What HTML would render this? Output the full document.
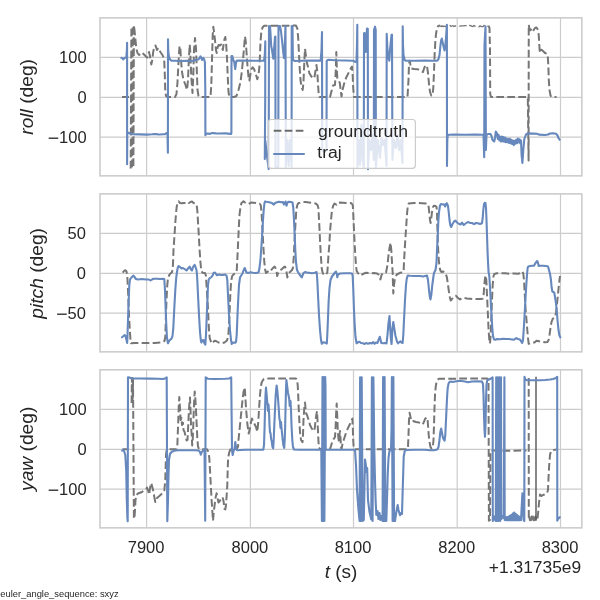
<!DOCTYPE html><html><head><meta charset="utf-8"><style>html,body{margin:0;padding:0;background:#fff}svg{display:block;will-change:transform}text{font-family:"Liberation Sans",sans-serif;fill:#262626}</style></head><body>
<svg width="600" height="600" viewBox="0 0 600 600">
<rect width="600" height="600" fill="#fff"/>
<clipPath id="c0"><rect x="100" y="17.85" width="481.85" height="158.0"/></clipPath>
<path d="M146.6 17.85V175.85M250.4 17.85V175.85M353.5 17.85V175.85M457.2 17.85V175.85M560.5 17.85V175.85M100 57.4H581.85M100 97.3H581.85M100 137.2H581.85" stroke="#cccccc" stroke-width="1.2" fill="none"/>
<g clip-path="url(#c0)" fill="none" stroke-linejoin="round">
<path d="M122 97 H129 M130.7 168.5 L131.4 25.5 M132.1 167.2 L132.7 25.5 M133.4 166 L133.9 25.3 L134.5 30 L135.3 38 L136.2 48 L137.5 53 L139 55 L140.5 54 L142 52.5 L143.5 54 L145 55.5 L146.5 57 L147.5 57.5 L148.3 54 L149 52 L150 56 L150.8 62 L151.3 64.5 L152.3 60 L153.2 52 L154.2 47 L155.5 45.5 L157 50 L158.3 48 L159.5 50.5 L161 53 L162.5 55 L163.5 57.5 L164.3 62 L164.8 75 L165.2 90 L166 96 L167.5 97 L175 97 L176.5 94 L177.5 82 L178.5 62 L179.5 46 L180.3 48 L181 60 L182 72 L183.5 80 L185.5 85 L187 90 L188 80 L188.8 60 L189.7 44.5 L190.3 52 L190.8 65 L191.5 80 L192.5 93 L193.3 75 L194 50 L195 38 L196 48 L196.8 70 L197.5 90 L198.5 96 L200 97 L210.5 97 L211.3 85 L212 60 L212.7 35 L213.3 26.7 L214.3 34 L215.2 42 L216 50 L216.7 53 L217.5 48 L218.5 45 L220 45.5 L221 44.5 L222 48 L222.8 50 L223.5 45 L224.5 39 L225.3 37 L226.2 45 L227 58 L227.8 78 L228.5 92 L229.5 97 L234 97 L236.5 96 L238.5 90 L240.5 82 L242 70 L243.5 54 L244.5 42 L245 36.5 L245.8 42 L246.5 52 L247.5 66 L248.5 77 L249.3 80.5 L250.5 74 L251.5 69 L252.7 67.3 L254 69 L255.5 73 L257.3 79.3 L258.5 75 L259.3 68 L260 55 L260.5 42 L261.3 32 L262.5 27.5 L264 25.8 L296 25.6 L297.3 28.5 L298.2 38 L298.8 50 L299.5 65 L300.5 80 L301.5 87 L302.7 90 L303.5 82 L304.3 62 L305 48.7 L305.8 55 L306.5 61 L308 67 L309.3 73 L311 76 L313 78.3 L314.3 78 L315.3 72 L316.5 65 L317.3 72 L318 84 L318.7 94 L319.5 97 L330 97 L331.3 92 L333 85.5 L335 85 L335.8 70 L336.3 52 L336.8 68 L337.3 78 L338.5 80 L339.8 83 L340.8 91 L341.5 96.5 L342.5 90 L344 84 L346 78 L349 72 L351 68 L352 66.5 L352.6 74 L353.2 88 L354 97 L407.5 97 L408.5 80 L409 64 L409.7 60.7 L410.5 65 L411.3 68.5 L414 69 L418 69.3 L421 71 L423 72 L424.2 68 L425.5 65.3 L427 66 L428 73 L429 84 L430 92 L431.3 95.5 L432.5 95.5 L433.3 88 L434 72 L434.6 55 L435.3 42 L436 34 L437 28.5 L438.2 26 L440 25.6 M488.5 25.6 L489.5 28 L490 50 L490.2 94 L491 97 L527.8 97 L528.6 160.5 L528.75 24.7 L529.5 29 L530.5 30.3 L531.5 28.5 L533 31 L534 29.5 L535 28 L536.5 27.5 L537.5 29 L538.3 31 L538.8 36 L539.3 45 L539.8 52.5 L540.5 50 L541.5 49.7 L543 51 L545 53 L547 53.7 L547.8 56.5 L548.3 65 L548.8 80 L549.5 90 L550.5 95.5 L551.5 97 L556.5 97" stroke="#767676" stroke-width="2" stroke-dasharray="7.7 3.3"/>
<path d="M440.0 25.7 L441.0 26.6 L442.0 25.7 L443.0 26.7 L444.0 26.1 L445.0 26.3 L446.0 26.5 L447.0 26.1 L448.0 25.8 L449.0 25.7 L450.0 25.5 L451.0 26.4 L452.0 26.0 L453.0 25.6 L454.0 26.6 L455.0 25.8 L456.0 26.0 L457.0 25.8 L458.0 26.3 L459.0 26.2 L460.0 26.2 L461.0 25.8 L462.0 25.8 L463.0 25.8 L464.0 25.9 L465.0 25.6 L466.0 25.6 L467.0 26.7 L468.0 26.7 L469.0 25.7 L470.0 25.4 L471.0 25.7 L472.0 26.4 L473.0 26.5 L474.0 25.4 L475.0 26.2 L476.0 25.4 L477.0 26.1 L478.0 26.3 L479.0 26.8 L480.0 25.8 L481.0 26.5 L482.0 26.6 L483.0 26.7 L484.0 25.4 L485.0 26.1 L486.0 26.8 L487.0 26.0 L488.0 26.5" stroke="#767676" stroke-width="1.3" stroke-dasharray="7.7 3.3" fill="none"/>
<path d="M121.3 57.8 L122.5 58.3 L123.3 59.5 L124.5 57.8 L126.3 57.5 L126.9 50 L127.1 42.7 L127.1 164.3 L127.3 133 L128.5 132.8 L130 133.5 L133 134.3 L140 134.4 L147 134.6 L152 134.3 L155 134 L158 134.4 L160 134.5 L163 134.2 L165 134.3 L166.5 133 L167.5 134 L167.9 152.7 L168 39.3 L168.3 52 L169 57 L170 59.5 L171.5 60.6 L175 60.8 L180 61 L186 60.8 L193.3 61 L196 59.8 L198.5 59.5 L200.5 56.3 L201.5 58.5 L202 60 L203.3 57.8 L204.3 60 L204.9 62 L205.3 90 L205.4 135.3 L206 133.5 L208 133.6 L210 133.9 L212 133 L216 133.4 L220 133.5 L225 133.3 L228 133.6 L231 134 L231.4 133 L231.5 56 L232.3 56 L232.8 58 L233.5 60.5 L234.3 62 L235.2 69 L236 63 L236.6 60.8 L238 60.5 L245 60.6 L255 60.7 L264 60.8 L264.8 55 L265.3 41.3 L265.2 100 L264.8 159 L265.4 141 L266.8 155 L268.7 169 L269 26 L270 26 L270.6 35 L271.2 46 L272 50 L272.6 54 L273.3 58.6 L274 50 L275 37 L275.4 36.5 L275.5 167 L278.3 167 L278.5 26 L280 26 L281 31.5 L282 40 L283 50 L284 58 L284.8 45 L285.5 26 L285.8 167 L287.5 140 L288.6 166 L290 140 L291.6 167 L291.7 26 L292.5 26 L292.7 45 L292.9 59.3 L293.8 60.5 L295 61 L300 60.7 L310 60.6 L320.7 60.6 L321.5 50 L322 32 L322.2 150 L324 152 L326.5 150 L326.7 61.3 L327.3 60.3 L328.5 59.8 L335 60.3 L345 60.5 L353 60.8 L355.5 62 L356.5 61 L357 45 L357.3 24.7 L357.5 167 L358.8 140 L360 165 L361.5 125 L362.6 160 L363.8 167 L364 33.3 L364.6 33 L365.7 52 L367 28.5 L367.8 29 L368 169.3 L369.5 140 L371 150 L372.5 135 L373.8 160 L374 30 L375 26.7 L375.7 30 L375.9 167 L378 140 L380 158 L381.5 138 L383 145 L384.5 140 L386.5 166 L386.7 33.7 L387.5 50 L388.5 58 L389.3 60.7 L390 50 L391.5 35 L392 34.7 L392.4 160 L394 140 L396 148 L397.5 135 L399 150 L400.5 140 L402.5 163 L402.7 26.3 L403 45 L403.5 55 L404.7 60 L406 60.8 L415 60.7 L425 60.6 L432 60.8 L437.3 60.6 L438.5 59 L439.5 55 L440.2 48 L441 41 L441.8 38.6 L443 44 L444.5 50.5 L445.3 46 L446.2 35 L446.9 24.7 L447 166 L447.3 140 L447.7 135.5 L448.7 134.7 L455 134.6 L465 134.7 L475 134.5 L483.5 134.7 L484.2 157.3 L484.5 45 L485.5 26.3 L485.9 150 L486.5 135 L488 134 L490.5 134 L491.5 136 L492.5 140 L494.2 141.5 L495 138 L495.8 131.5 L497.0 133.3 L497.8 138.9 L498.6 134.9 L499.4 140.4 L500.2 136.7 L501.0 141.5 L501.8 136.6 L502.6 141.3 L503.4 137.1 L504.2 141.8 L505.0 137.6 L505.8 142.1 L506.6 138.5 L507.4 142.3 L508.2 139.0 L509.0 142.9 L509.8 138.9 L510.6 143.3 L511.4 139.8 L512.2 144.0 L513.0 140.6 L513.8 145.1 L514.6 140.8 L515.4 143.8 L516.2 139.8 L517.0 143.2 L517.8 138.6 L518.6 142.2 L519.4 139.2 L520.2 143.2 L521.0 140.4 L521.6 155 L522.4 163 L523.3 150 L524.3 139 L526 134.5 L528 133.4 L533 133.6 L537 133.7 L539 134.6 L545 135 L548 134.5 L550 133.5 L553 133.3 L556 133.7 L557.5 135.5 L558.5 138 L559.6 139.6" stroke="#6688bd" stroke-width="2.1" stroke-linecap="round"/>
</g>
<rect x="268.3" y="119.5" width="147.1" height="48.8" rx="3" fill="#fff" fill-opacity="0.8" stroke="#cccccc" stroke-width="1.2"/>
<path d="M273.7 130.8H304.3" stroke="#6c6c6c" stroke-width="2" stroke-dasharray="7.7 3.3" fill="none"/>
<path d="M274 154H304" stroke="#6688bd" stroke-width="2" stroke-linecap="round" fill="none"/>
<text transform="translate(318 136.6) scale(1.13 1)" font-size="15.6">groundtruth</text>
<text transform="translate(317.3 158.1) scale(1.13 1)" font-size="15.6">traj</text>
<rect x="100" y="17.85" width="481.85" height="158.0" fill="none" stroke="#cccccc" stroke-width="1.6"/>
<text transform="translate(86.6 63.1) scale(1.06 1)" font-size="15.6" text-anchor="end">100</text>
<text transform="translate(86.6 103.0) scale(1.06 1)" font-size="15.6" text-anchor="end">0</text>
<text transform="translate(86.6 142.89999999999998) scale(1.06 1)" font-size="15.6" text-anchor="end">100</text><rect x="48.65" y="137.55" width="9.6" height="1.3" fill="#262626"/>
<text transform="translate(32.8 96.85) rotate(-90) scale(1.055 1)" font-size="18.2" text-anchor="middle"><tspan font-style="italic">roll</tspan> (deg)</text>
<clipPath id="c1"><rect x="100" y="193.9" width="481.85" height="157.95000000000002"/></clipPath>
<path d="M146.6 193.9V351.85M250.4 193.9V351.85M353.5 193.9V351.85M457.2 193.9V351.85M560.5 193.9V351.85M100 233.4H581.85M100 273.3H581.85M100 313.2H581.85" stroke="#cccccc" stroke-width="1.2" fill="none"/>
<g clip-path="url(#c1)" fill="none" stroke-linejoin="round">
<path d="M122.7 272.7 L124 271 L125.4 270.2 L126.5 271.5 L127.3 276 L128 290 L129 315 L129.8 330 L130.5 340 L131 343.2 L135 343 L145 343 L155 343 L162.5 342.3 L164.5 341 L165.3 337 L165.8 320 L166.5 300 L167.3 285 L168 278 L169.2 275.2 L170.5 273.5 L172 272.3 L172.9 266 L173.5 250 L174.5 235 L175.5 220 L176.6 207.6 L177.4 203.2 L178.6 201.4 L180 203 L182 203.3 L184 203 L186 203 L187.8 202 L189 203 L190.5 202 L192 201.5 L193.5 203 L195 203.5 L196.6 204.6 L197.4 211.5 L198 222 L198.8 235 L199.6 250 L200.5 263 L201.3 271 L202.5 272.7 L205 273 L206 276 L206.5 285 L207.5 300 L208.3 315 L209 330 L209.7 338 L211.5 343.5 L213 342.5 L214.6 340.7 L216 341 L218.5 342.5 L221.8 343.3 L224.5 342.5 L227 340.5 L228.3 336 L229 325 L229.7 310 L230.3 295 L231 283 L231.7 278 L232.4 275.6 L234 274 L236 273 L236.7 271 L237.3 260 L238 245 L238.7 230 L239.5 215 L240.5 206.8 L241.5 203 L243.5 201.3 L245 202.5 L247 203.7 L248.5 204 L251 202.5 L254 202.8 L257.3 203.2 L259.5 203.5 L260.7 205 L261.5 212 L262.3 225 L263 240 L263.7 252 L264.3 262 L265.2 270 L266 273 L267.5 271.5 L269 272.3 L270.5 271 L272.5 268.5 L274.6 266.6 L275.5 268 L276.5 271 L277.2 276 L278.5 272 L280 270.5 L282 269 L284 267 L284.9 266.5 L286 269 L287 275 L287.3 277.4 L288.5 273 L290 272 L292 270 L292.9 268 L293.7 258 L294.3 245 L295 232 L295.7 220 L296.3 210 L297.3 205 L298.5 203 L300 202.8 L303 202 L305.5 202.1 L309 202.5 L312 203 L315.5 203.4 L317.5 205 L318.4 208 L319.3 225 L320 240 L320.8 255 L321.7 268 L322.6 272.6 L324 275 L326 274.5 L327.3 272.5 L327.8 266 L328.4 256 L329.3 245 L330 232 L331 220 L332 210 L333.2 205.8 L334.5 203.6 L336.5 204.6 L337.5 203 L340 202.5 L343 202.7 L346 203 L349 203 L351.5 203.3 L352.8 205.2 L353.3 215 L354 230 L354.7 245 L355.5 258 L356 266 L356.7 271.2 L358 273 L359.5 275.3 L361 275 L363 274 L366 272.7 L370 273.3 L374 273 L377 273.5 L379 275 L380.4 279.4 L381.5 275 L383 273 L386 272.6 L387.5 265 L388.5 255 L389.5 248 L390.6 242.8 L391.3 250 L392 262 L392.7 273 L393 285 L393.3 293.5 L394 285 L395 278 L396.8 274.5 L400 272.8 L403 272.5 L403.7 270 L404 262 L404.7 250 L405.5 237 L406.3 225 L407 214 L407.8 206 L408.7 203.6 L411 203.2 L414 203 L418 203 L422 203.2 L426 203.5 L428 204 L428.7 207 L429.3 213 L430 220 L430.6 223 L431.3 218 L432 212 L433 207 L434 205.7 L435.5 206 L436.5 207 L437 212 L437.3 225 L437.7 240 L438.2 250 L438.8 260 L439.5 267 L440.5 270.8 L441.5 272 L443 271.5 L445 272.5 L446.7 276.5 L447 278 L448 285 L449 292 L450 298 L450.7 300.5 L452 299 L454 296.5 L456 295.8 L458 298 L460 299.4 L462 298 L464 298 L467 298.5 L470 298.7 L473 299 L476 299 L480 299 L482.8 298.7 L483.7 294 L484.3 285 L485 278 L485.7 275.5 L486.3 280 L487 295 L487.8 312 L488.5 328 L489.3 340 L490 343.5 L490.7 335 L491.3 318 L492 300 L492.7 285 L493.3 277 L494.3 274 L497 273.3 L505 273.3 L510 273.8 L514 273.5 L518 273.8 L520 273.3 L522.4 271.5 L523.3 273.5 L524 280 L524.8 295 L525.5 308 L526.5 320 L527.3 330 L528 338 L528.7 343.8 L530 343 L532 342.7 L534.5 342.5 L536.5 340.7 L538 341 L540 341.5 L543 342 L545 342.3 L547.5 342 L548.6 340 L549.5 335 L550.5 328 L551.5 322 L552.8 318.6 L554.6 317.8 L556 313 L557 304 L558 294 L559 284 L560 276" stroke="#767676" stroke-width="2" stroke-dasharray="7.7 3.3"/>

<path d="M122 337.3 L123.5 336 L124.6 335 L125.5 336 L126.5 340 L127.2 343 L127.5 335 L128 320 L128.7 300 L129.3 285 L130 279.5 L131 278 L132 277 L133.5 275.6 L134.5 277 L136 279 L138 279.5 L142 279 L146 279.5 L149 279.5 L150.5 280.5 L152 279.5 L153.5 278.7 L157 278.8 L160 279 L163 278.7 L164.3 279 L165 290 L165.7 310 L166.3 325 L167 338 L168 343.3 L169 341 L170.5 339.5 L171.5 338.7 L172.5 336 L173.3 328 L174.3 308 L175.3 290 L176.2 278 L177 272 L177.7 268 L178.6 266 L180 267 L181.5 268.5 L183 268 L184.5 269 L186.5 270.5 L188 268.5 L189.7 266.6 L191 269.5 L192 270.5 L193 267 L194.6 264.8 L195.5 267 L196.5 270 L197 275 L197.4 282 L198 295 L199 315 L200 332 L200.8 340 L201.4 342.6 L202.5 340.5 L203.5 340 L204.5 343.5 L205.3 344.6 L206 335 L206.8 315 L207.5 298 L208 285 L208.8 279.3 L210 278 L211.5 277 L212.7 275.3 L213.5 273 L215 272.5 L216 274 L217 275.3 L219 274.5 L221 275 L223 275 L225 274.5 L226.5 275.5 L227.3 280 L228 295 L229 315 L230 330 L231 340 L231.8 344 L232.5 343 L233.5 342.5 L235.2 342.8 L236 342 L236.7 335 L237.5 315 L238.3 298 L239 285 L240 277.5 L241.5 275 L242.5 273.5 L243.5 270.5 L244.7 268 L245.5 270 L246.5 272.6 L248 273 L250.5 272.3 L253 272.8 L256 273 L258.5 272.5 L259.5 268 L260.6 258 L261.5 245 L262.3 232 L263 220 L263.7 210 L264.5 203 L265.2 201.4 L266 201.7 L268 202 L270 202.5 L272 203 L273.8 204.6 L275 203 L277 202.3 L279 201.8 L281 202.3 L283 202 L284 204.5 L285 203 L285.5 201.5 L286.5 205.8 L287.5 202.5 L289 201.7 L291 202 L292.5 202.5 L293.3 208 L294 220 L294.7 235 L295.3 250 L296 262 L297 270 L298 272 L299.5 274.5 L301.8 277.4 L303.5 273 L305 272 L307 272.6 L309 272.8 L312 273.3 L315 272.8 L316.6 272 L317 276 L317.4 282 L318 295 L319 315 L320 330 L321 340 L321.8 343.7 L323 342.3 L324.5 342.5 L326 343 L326.8 343.5 L327.3 335 L328 318 L328.7 300 L329.5 288 L330.5 280 L332 276.5 L333.5 274.5 L335 272.5 L336 271.5 L336.8 274 L337.3 277.3 L338 274.5 L340 273.5 L345 273.3 L350 273.3 L352 273.5 L352.7 276 L353.3 290 L354 310 L354.7 325 L355.5 337 L356.6 343.3 L358 342.3 L359.5 341.7 L361 343 L363 343.3 L364.6 344 L366 343 L368 343.7 L370 343 L372 343.5 L373 342 L374.6 343.8 L376 342.5 L377.5 343 L378.5 340 L379.8 336.8 L380.6 340 L381.3 343 L383 343.2 L385 343 L386.5 343.5 L387.5 335 L388.3 325 L389.5 316 L390.3 330 L391 340 L391.6 344 L392.3 330 L393.3 322 L394.5 330 L395.5 336 L397 341.5 L398 343.3 L399.5 342 L400.5 341.3 L401.5 342.5 L402.6 343 L403.3 335 L404 320 L405 300 L406 285 L406.7 279 L407.7 275.5 L410 275.8 L415 276 L420 276 L423 276.5 L427 275.5 L428 280 L429 290 L430 298 L430.5 299.4 L431.3 295 L432.3 285 L433.5 276 L434 273 L435.5 270 L436.5 263 L437 250 L437.8 235 L438.3 222 L439 212 L440 205.5 L440.9 204 L442.5 204.5 L444 204.3 L445.2 206.5 L446 204 L446.8 203.2 L448 206 L448.7 212 L449.5 220 L450.3 225 L451.2 227 L452.3 224.5 L454 221.5 L455.5 220.6 L457 222.5 L459.2 224 L460.5 224.5 L462 222.6 L463.8 225 L465 224 L467 222.5 L468.6 222 L470 223 L472 223 L474 224.2 L476 223 L478 223.3 L480 224 L482 223.2 L482.7 218 L483.3 210 L484 204 L484.8 202.8 L485.5 203 L486 208 L486.5 220 L487 235 L487.5 250 L488 262 L488.6 272.6 L489.3 276 L490 287 L490.7 300 L491.5 315 L492.3 328 L493 336 L494 339.4 L495.5 339.8 L497 339 L500 339.3 L503 338.8 L506 339 L509 339 L512 339.5 L514 339.6 L516.3 338.1 L518 339 L520 339.6 L522.2 342.9 L523 340 L523.7 330 L524.6 315 L525.5 298 L526.3 285 L527 275 L527.6 268 L528.3 266.4 L530 266 L532 265.7 L534 265.7 L535.5 263 L537.2 261 L538 263 L538.7 266 L540 265.7 L543 265.8 L546 266 L548 266.5 L549 270 L550 274 L551 280 L551.6 287.5 L552.4 291.5 L554.3 292.6 L555 297 L556 303.3 L556.7 310 L557.5 320 L558.5 330 L559.3 335 L560.3 337.4" stroke="#6688bd" stroke-width="2.1" stroke-linecap="round"/>
</g>
<rect x="100" y="193.9" width="481.85" height="157.95000000000002" fill="none" stroke="#cccccc" stroke-width="1.6"/>
<text transform="translate(86.0 239.1) scale(1.06 1)" font-size="15.6" text-anchor="end">50</text>
<text transform="translate(86.0 279.0) scale(1.06 1)" font-size="15.6" text-anchor="end">0</text>
<text transform="translate(86.0 318.9) scale(1.06 1)" font-size="15.6" text-anchor="end">50</text><rect x="57.10" y="313.55" width="9.6" height="1.3" fill="#262626"/>
<text transform="translate(42.8 273.375) rotate(-90) scale(1.055 1)" font-size="18.2" text-anchor="middle"><tspan font-style="italic">pitch</tspan> (deg)</text>
<clipPath id="c2"><rect x="100" y="369.8" width="481.85" height="158.05"/></clipPath>
<path d="M146.6 369.8V527.85M250.4 369.8V527.85M353.5 369.8V527.85M457.2 369.8V527.85M560.5 369.8V527.85M100 409.40000000000003H581.85M100 449.3H581.85M100 489.2H581.85" stroke="#cccccc" stroke-width="1.2" fill="none"/>
<g clip-path="url(#c2)" fill="none" stroke-linejoin="round">
<path d="M122.5 449.2 H128.5 M131.6 403 L131.9 378 L132.7 399 L133 378.5 L133.9 518.7 L134.6 516 L135 510 L135.5 500 L136.3 495 L138 493.5 L140 492.7 L142 492 L144 490.5 L146 489 L147 487.5 L148 490 L149.2 494.6 L150 488 L151.2 483 L152.3 487 L153.5 492 L154.5 498 L155.3 502 L157 498 L158.8 496.5 L161 494.5 L163 492.5 L164.3 490.6 L165.3 480 L165.7 465 L166 455 L166.6 450.6 L168 449.3 L176.5 449.3 L177.3 447 L177.7 435 L178.3 420 L178.8 405 L179.3 397 L179.8 405 L180.2 411 L180.6 420 L181.5 418 L182 425 L183 423 L183.5 430 L184.6 432 L185.5 436 L186.6 440.5 L187.5 440 L188 430 L188.7 415 L189.3 405 L190 397.4 L190.3 405 L190.7 415 L191 425 L191.7 435 L192.2 445.5 L192.7 440 L193.3 425 L193.8 410 L194.3 398 L194.7 391.4 L195.3 398 L196 410 L196.7 425 L197.3 438 L198 446.5 L199 449 L203.5 449.2 L207 449.3 L208.5 452 L209.3 458 L210 470 L210.8 485 L211.6 500 L212.4 512 L213 520.7 L213.5 515 L214.5 506 L215.5 498 L216.6 493.2 L217.3 497 L218.5 502.5 L219.5 501.5 L221 499 L222.6 497.2 L223.5 501 L224.6 509 L225.3 509.5 L226 505 L226.7 495 L227.3 485 L227.7 470 L228 461 L228.7 455 L229.4 451.8 L230.5 449.2 L236.7 448.8 L238 446.7 L238.5 440 L239.5 430 L240.5 420 L241.5 410 L242.5 400 L243.5 392 L244.7 387.4 L245.3 396 L246 408 L247.3 423.3 L248.7 433.6 L250 428 L251 422 L252 418.6 L253 421 L254.5 424 L256 427 L257.3 431.8 L258 425 L258.7 415 L259.3 405 L260 395 L260.7 388 L261.5 383 L262.6 380.6 L264 379 L266 378.5 L296 378.5 L297 380 L297.7 385 L298.2 395 L298.7 408 L299.3 420 L300 432 L301 440 L302.5 442.3 L303 435 L303.5 420 L304.3 408 L305 402.6 L305.5 408 L306 413 L307 415 L308 418 L309 421 L310 425 L311.5 428 L313.3 430.8 L314 431 L314.8 428 L315.5 421 L316.3 415 L317 411.3 L317.5 420 L318 432 L318.5 442 L319 447.5 L320 449 L330 449.2 L331 446 L332.5 441 L334 438.5 L335 437 L335.7 425 L336.2 412 L336.7 403.6 L337.2 415 L337.7 428 L338.3 437 L338.8 440.6 L339.5 435 L340 431 L340.5 438 L341 447 L341.5 449 L342.5 444 L344 439 L346 433 L348 428 L350 424 L351.5 420.5 L352.4 418.6 L352.8 428 L353.2 440 L353.7 448 L354.5 449.2 L407.5 449.2 L408 447 L408.5 435 L409 420 L409.6 412.7 L410.5 417 L411.3 421 L413 421 L416 422 L419 422.5 L422.3 424.6 L423.5 423 L425 419 L426.6 417.4 L427.5 419 L428 425 L428.7 435 L429.5 442 L430.5 447 L431.4 448.5 L432.7 448 L433.5 440 L434 425 L434.5 408 L435 395 L435.7 387 L436.5 382 L437.4 379.8 L439 378.7 L487.3 378.5 L488.5 380 L488.9 520.7 L490 520 L490.5 451 L492 450.6 L500 450.6 L510 450.8 L520 450.6 L526.5 450.5 M528.7 378 L528.8 519.3 L529.3 516.6 L529.9 520.2 L530.5 516.6 L531.1 520.2 L531.7 516.6 L532.3 520.2 L532.9 516.6 L533.5 520.2 L534.1 516.6 L534.7 520.2 L535.3 516.6 L536.5 520.5 L537.5 519 L538.2 512 L539 503 L540 494.5 L541.5 496 L543 495 L544.5 494.5 L547 493 L548 490 L548.5 478 L549.2 465 L550 455 L551 451.3 L552 450.3 L556.5 449.5" stroke="#767676" stroke-width="2" stroke-dasharray="7.7 3.3"/>
<path d="M536 376.8V520.7" stroke="#555555" stroke-width="1.4" fill="none"/>
<path d="M122 450.7 L123.5 449.5 L124.3 451.8 L125.3 455 L126.2 470 L126.8 500 L127.4 518 L127.7 521.3 L128 377.3 L129.5 377.6 L132 378.5 L140 378.5 L150 378.6 L158 378.7 L163 379 L165 378.5 L166.7 377.3 L167.3 521.3 L168 500 L168.5 475 L169 460 L170 454 L171.5 452 L174 450.8 L178 450.3 L185 450.3 L195 450.3 L198.5 450.5 L200 452 L200.8 454.7 L202 451.5 L203.5 450.5 L204.5 450 L205.2 520.7 L205.7 377.3 L206.5 378 L208 378.8 L215 379 L225 378.8 L229 378.5 L231.2 377.3 L232 450 L232.7 455 L233.5 451 L234.5 449 L235.3 442 L236.2 449 L237 450.2 L245 449.8 L255 449.7 L263.3 449.7 L264 445 L264.5 430 L265 410 L265.5 395 L266 387.5 L266.7 395 L267.4 404 L268 411 L268.5 404.5 L269.1 413 L269.5 425 L270 432.5 L270.5 433 L271.2 439.5 L271.7 441 L272.5 447 L273.2 448.3 L273.7 440 L274.3 425 L275 410 L275.7 395 L276.6 385.5 L277.3 390 L278 398 L278.7 408 L279.3 418 L280 421.3 L280.5 428 L281 422 L281.7 430 L282.5 438 L283.3 445 L284.2 448 L284.7 440 L285.2 425 L285.6 405 L286 390 L286.4 380 L287 385 L288 393 L289.2 398.6 L289.7 406 L290.5 401 L291 410 L291.5 425 L292.3 440 L293 447 L294 449.5 L300 449.7 L310 449.7 L321.3 449.7 L321.9 521 L322.5 377 L323.1 521 L323.8 377 L324.4 521 L325.2 377 L325.5 386 L325.7 449.7 L340 449.7 L355 449.8 L356 465 L357 490 L358.5 510 L359.6 521 L360.1 377.3 L360.9 521 L361.7 377.3 L362.6 521 L363.8 520 L364.4 490 L365 459.5 L366 466 L366.5 472 L367.2 468 L368 500 L369.5 512 L371.3 519.5 L371.9 377.3 L372.6 521 L373.4 377.3 L374.3 450 L375 480 L375.6 500 L376.3 515 L377.5 511 L378.5 519 L379.5 513 L380.5 520 L381.5 516 L382.6 521 L383.1 377 L383.8 521 L384.6 377 L385.3 521 L386.3 521 L387 500 L387.7 475 L388.5 458 L389.5 451 L391 450 L391.5 430 L391.9 377 L392.6 521 L393.4 377 L394.1 521 L395 521 L396 514 L397.7 505 L398.5 510 L400 515.3 L401 513 L402 514 L402.7 490 L403.7 456.7 L404.7 451.3 L406 450 L415 449.7 L425 449.7 L430 450.3 L434 450.3 L437.3 449.5 L438.5 447 L439.5 440 L440.3 432 L441.2 428.6 L442 433 L443 438 L444.6 440.6 L445.3 435 L446 420 L446.7 405 L447.2 395 L447.7 388 L448.6 383.4 L449.5 382 L451 381.5 L453 382 L455 381.5 L458 381 L460 380.8 L465 381.5 L468 382.3 L472 381.5 L478 381.3 L482 381.6 L483 384 L483.5 395 L484 415 L484.5 430 L485 436.8 L485.5 425 L486 400 L486.5 385 L487.2 380.4 L489 379.5 L491 378.5 L492.6 377.3 L492.8 521 L493.6 516 L494.6 519 L495.8 521 L496.2 377.3 L497 521 L497.8 377.3 L498.6 521 L499.4 377.3 L500.2 521 L501 377.3 L501.3 519 L502.5 516 L503.8 518 L504.4 377.3 L504.7 520 L505.2 517.4 L505.9 520.3 L506.7 517.1 L507.4 520.3 L508.2 516.7 L508.9 520.3 L509.7 515.9 L510.4 520.3 L511.2 515.0 L511.9 520.3 L512.7 513.6 L513.5 520.3 L514.2 512.6 L515.0 520.3 L515.7 513.8 L516.5 520.3 L517.2 515.0 L518.0 520.3 L518.7 516.2 L519.5 520.3 L520.2 517.1 L521.0 520.3 L522.4 493.3 L523 510 L523.7 520 L524.3 521 L524.5 376.8 L525.3 379.5 L527 380.3 L530 380.3 L535 380.3 L540 380.3 L545 380 L550 379.5 L553 379 L556 378 L557.2 376.8 L557.3 520.7 L558 519 L559.8 517.2" stroke="#6688bd" stroke-width="2.1" stroke-linecap="round"/>
</g>
<rect x="100" y="369.8" width="481.85" height="158.05" fill="none" stroke="#cccccc" stroke-width="1.6"/>
<text transform="translate(86.6 415.1) scale(1.06 1)" font-size="15.6" text-anchor="end">100</text>
<text transform="translate(86.6 455.0) scale(1.06 1)" font-size="15.6" text-anchor="end">0</text>
<text transform="translate(86.6 494.9) scale(1.06 1)" font-size="15.6" text-anchor="end">100</text><rect x="48.65" y="489.55" width="9.6" height="1.3" fill="#262626"/>
<text transform="translate(32.8 448.82500000000005) rotate(-90) scale(1.055 1)" font-size="18.2" text-anchor="middle"><tspan font-style="italic">yaw</tspan> (deg)</text>
<text transform="translate(146.1 553) scale(1.06 1)" font-size="15.6" text-anchor="middle">7900</text>
<text transform="translate(249.9 553) scale(1.06 1)" font-size="15.6" text-anchor="middle">8000</text>
<text transform="translate(353.0 553) scale(1.06 1)" font-size="15.6" text-anchor="middle">8100</text>
<text transform="translate(456.7 553) scale(1.06 1)" font-size="15.6" text-anchor="middle">8200</text>
<text transform="translate(560.0 553) scale(1.06 1)" font-size="15.6" text-anchor="middle">8300</text>
<text transform="translate(341 577.6) scale(1.046 1)" font-size="18.2" text-anchor="middle"><tspan font-style="italic">t</tspan> (s)</text>
<text transform="translate(581.2 573) scale(1.115 1)" font-size="15.6" text-anchor="end">+1.31735e9</text>
<text transform="translate(0.3 596.5) scale(1.087 1)" font-size="8.6" text-anchor="start">euler_angle_sequence: sxyz</text>
</svg></body></html>
